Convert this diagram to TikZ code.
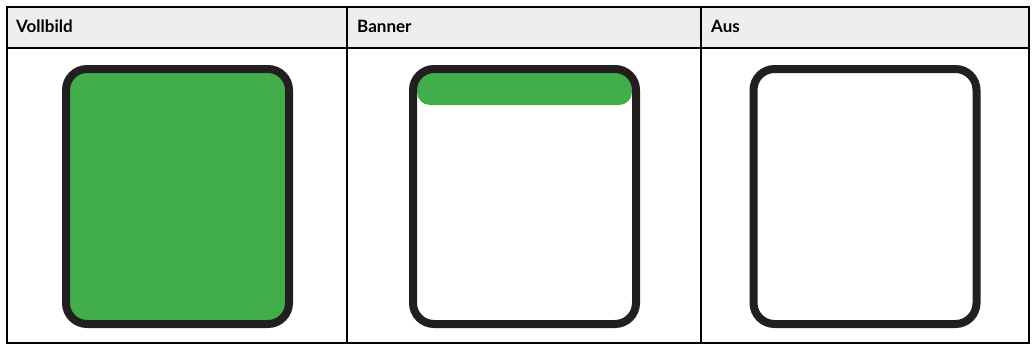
\documentclass[tikz,border=0pt]{standalone}
\usepackage{fontspec}
\setmainfont{Lato}
\definecolor{hdrgray}{HTML}{EEEEEE}
\definecolor{framecol}{HTML}{231F20}
\definecolor{devgreen}{HTML}{41AE4B}
\begin{document}
\begin{tikzpicture}[x=1pt,y=-1pt,
  hdrtext/.style={anchor=base west,inner sep=0pt,font=\bfseries\fontsize{17}{19}\selectfont},
  tableline/.style={line width=2pt,black},
  device/.style={draw=framecol,line width=8pt,rounded corners=21pt,minimum width=223pt,minimum height=255pt,inner sep=0pt},
  bannerbar/.style={fill=devgreen,rounded corners=13pt,minimum width=215pt,minimum height=32pt,inner sep=0pt}]
\useasboundingbox (0,0) rectangle (1035,345);
% header background
\fill[hdrgray] (7,7) rectangle (1029,48);
% table lines
\draw[tableline] (7,7) rectangle (1029,343);
\draw[tableline] (7,48) -- (1029,48);
\draw[tableline] (347,7) -- (347,343);
\draw[tableline] (701,7) -- (701,343);
% header texts
\node[hdrtext] (h1) at (16,33) {Vollbild};
\node[hdrtext] (h2) at (357,33) {Banner};
\node[hdrtext] (h3) at (711,33) {Aus};
% devices
\node[device,fill=devgreen] (d1) at (177.5,196.5) {};
\node[bannerbar] (b2) at (524.5,89) {};
\node[device] (d2) at (524.5,196.5) {};
\node[device] (d3) at (865,196.5) {};
\end{tikzpicture}
\end{document}
